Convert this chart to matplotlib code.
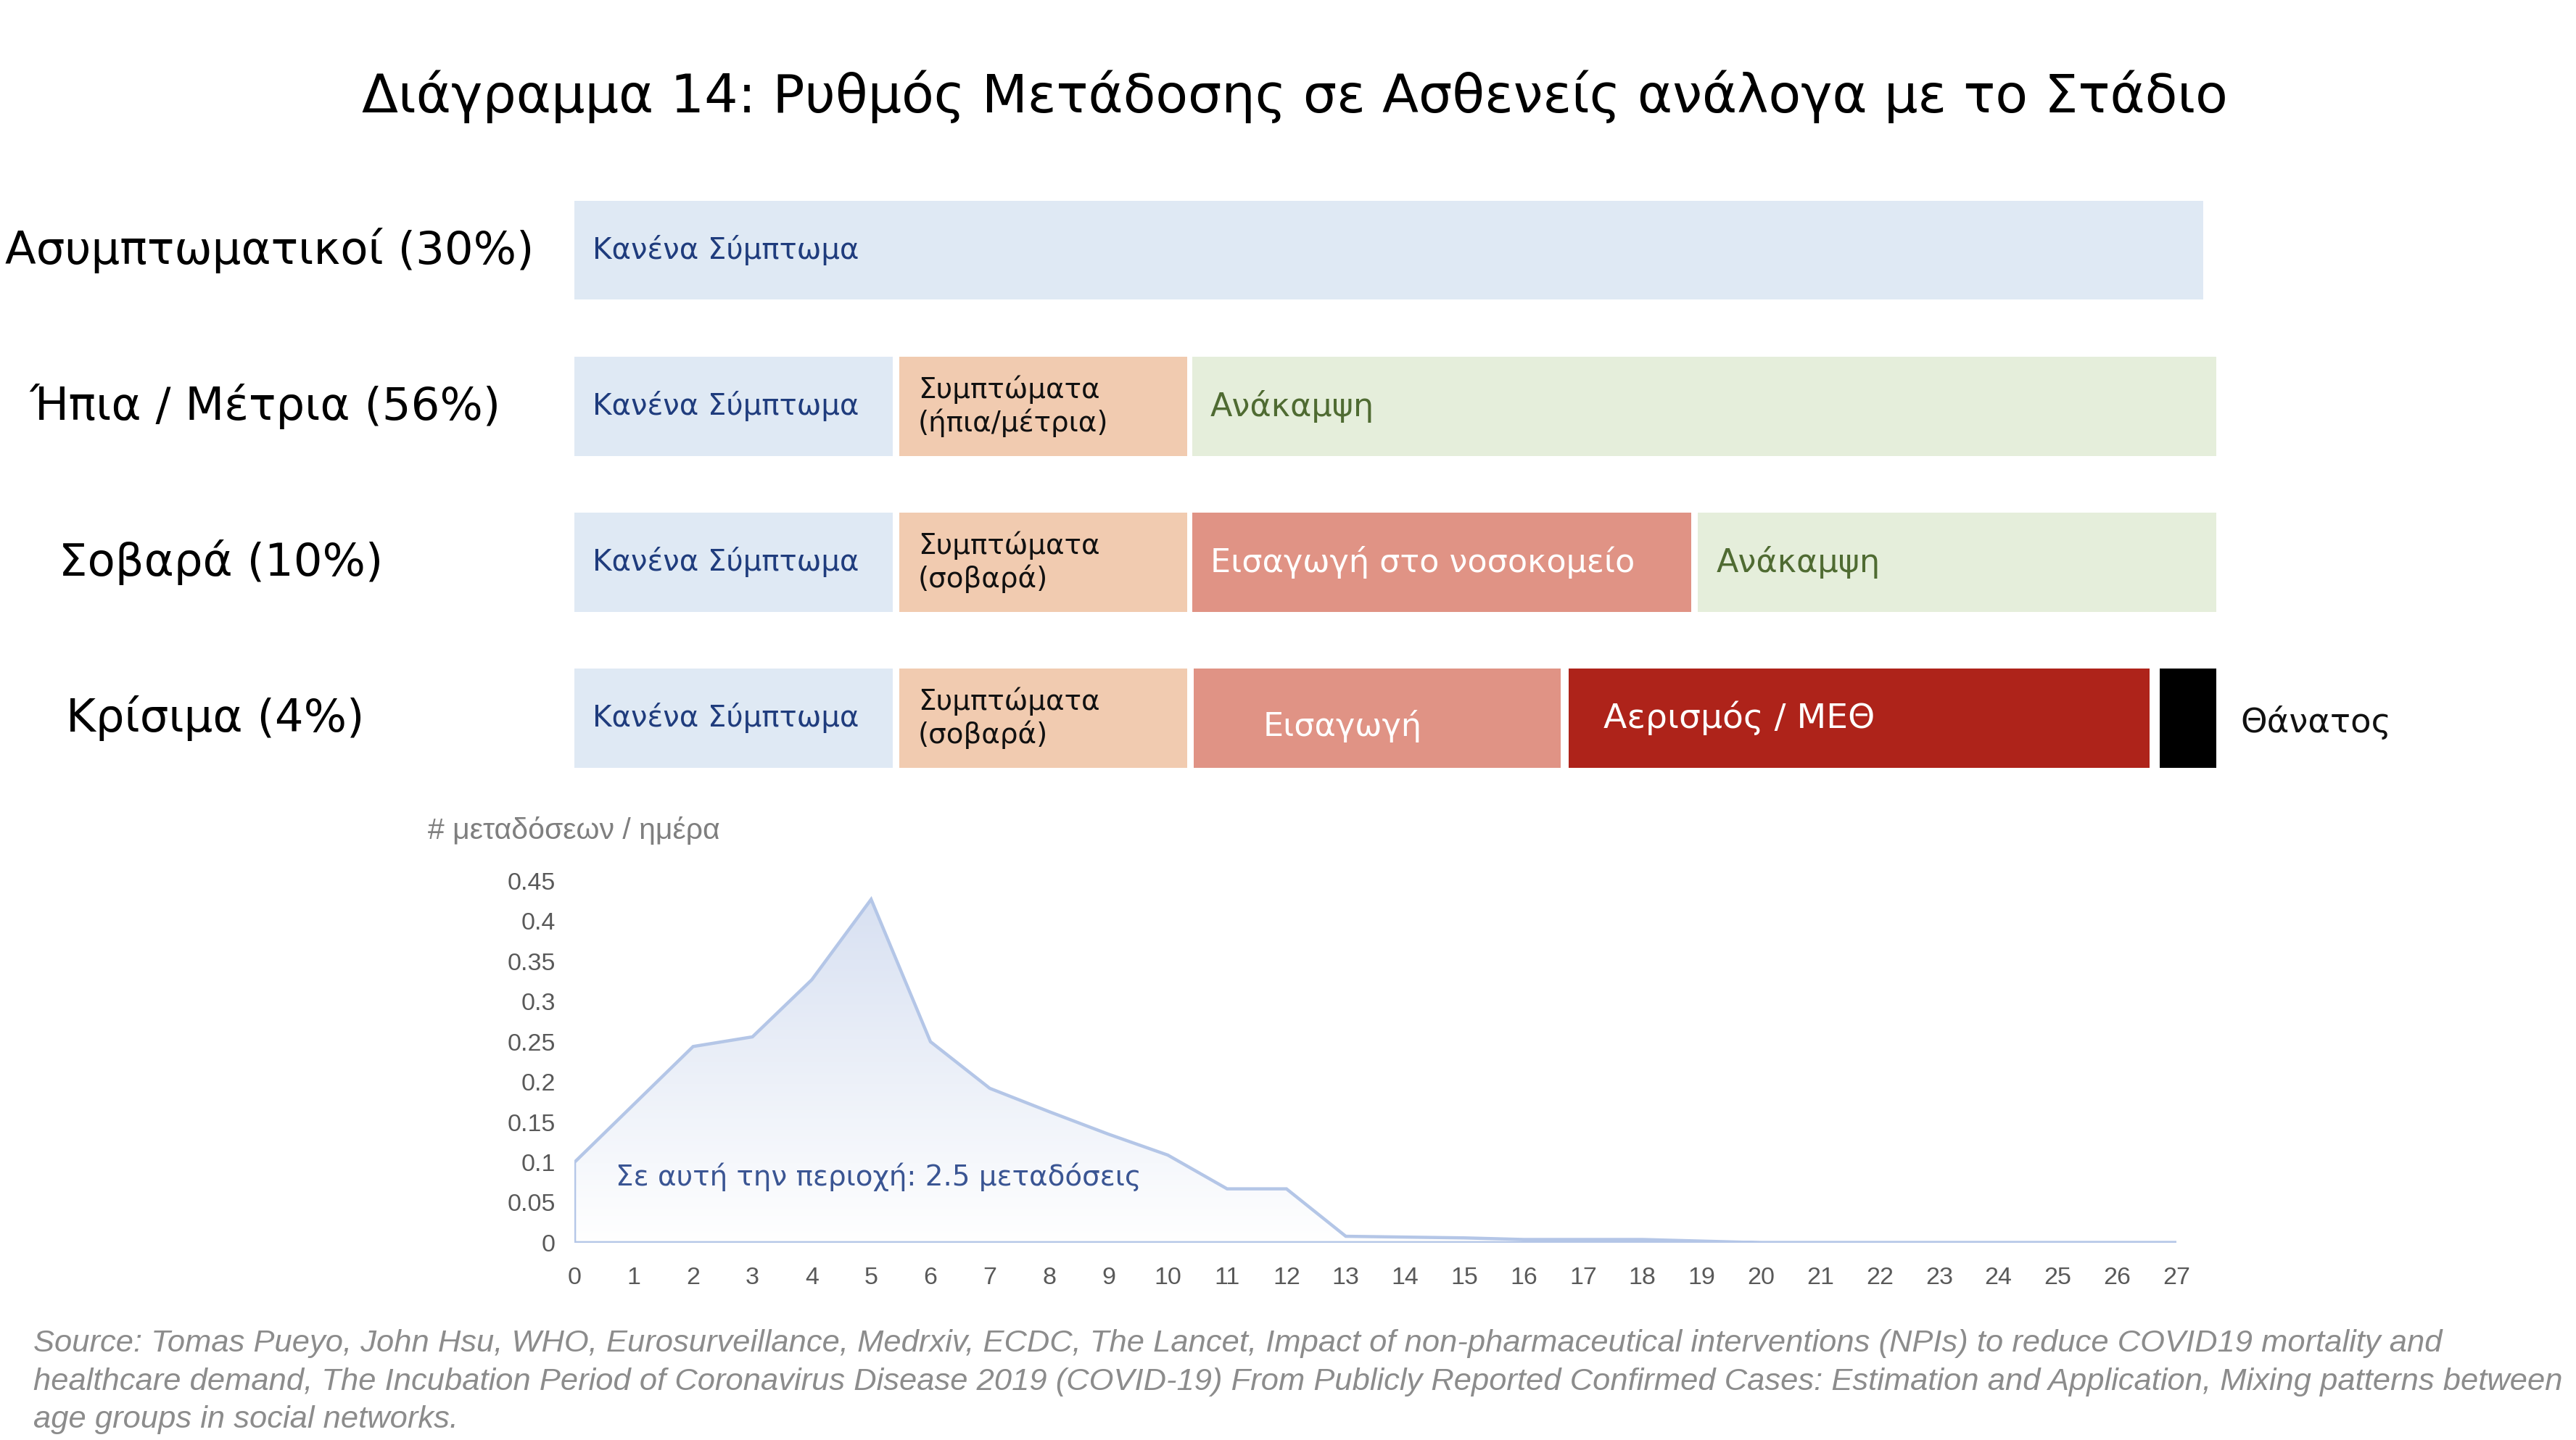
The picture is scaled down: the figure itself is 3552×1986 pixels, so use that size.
import numpy as np
import matplotlib
matplotlib.use('Agg')
import matplotlib.pyplot as plt
from matplotlib.colors import LinearSegmentedColormap
from matplotlib.patches import Polygon
from matplotlib.transforms import blended_transform_factory

# 데이터
days = list(range(28))
rate = [0.100, 0.172, 0.244, 0.256, 0.327, 0.427, 0.250, 0.192, 0.163, 0.135,
        0.109, 0.067, 0.067, 0.008, 0.007, 0.006, 0.004, 0.004, 0.004, 0.002,
        0.0, 0.0, 0.0, 0.0, 0.0, 0.0, 0.0, 0.0]

rows = ['Ασυμπτωματικοί (30%)', 'Ήπια / Μέτρια (56%)', 'Σοβαρά (10%)', 'Κρίσιμα (4%)']

# 각 단계 구간 (일 단위 시작, 끝)
seg_start = [[0.0],
             [0.0, 5.48, 10.41],
             [0.0, 5.48, 10.41, 18.93],
             [0.0, 5.48, 10.44, 16.76, 26.72]]
seg_end = [[27.45],
           [5.37, 10.33, 27.67],
           [5.37, 10.33, 18.82, 27.67],
           [5.37, 10.33, 16.62, 26.55, 27.67]]
seg_text = [['Κανένα Σύμπτωμα'],
            ['Κανένα Σύμπτωμα', 'Συμπτώματα\n(ήπια/μέτρια)', 'Ανάκαμψη'],
            ['Κανένα Σύμπτωμα', 'Συμπτώματα\n(σοβαρά)', 'Εισαγωγή στο νοσοκομείο', 'Ανάκαμψη'],
            ['Κανένα Σύμπτωμα', 'Συμπτώματα\n(σοβαρά)', 'Εισαγωγή', 'Αερισμός / ΜΕΘ', '']]
seg_kind = [['none'],
            ['none', 'sym', 'rec'],
            ['none', 'sym', 'hosp', 'rec'],
            ['none', 'sym', 'hosp', 'icu', 'death']]

fill_c = {'none': '#dfe9f4', 'sym': '#f1cbb0', 'hosp': '#e09385', 'icu': '#ae231a',
          'rec': '#e5eedb', 'death': '#000000'}
text_c = {'none': '#1f3c7d', 'sym': '#111111', 'hosp': '#ffffff', 'icu': '#ffffff',
          'rec': '#4f6b32', 'death': '#000000'}
text_s = {'none': 29, 'sym': 28, 'hosp': 32, 'icu': 34, 'rec': 32, 'death': 32}

plt.rcParams['font.family'] = ['DejaVu Sans']
fig = plt.figure(figsize=(35.52, 19.86), dpi=100)

fig.text(0.5025, 0.933, 'Διάγραμμα 14: Ρυθμός Μετάδοσης σε Ασθενείς ανάλογα με το Στάδιο',
         ha='center', va='center', fontsize=52.7, color='#000000')

# 상단 막대
ax = fig.add_axes([0.2230, 0.4471, 0.6219, 0.4333])
ax.set_xlim(0, 27)
ax.set_ylim(3.5, -0.5)
ax.axis('off')
trans = blended_transform_factory(fig.transFigure, ax.transData)

label_x = [0.1047, 0.1028, 0.0859, 0.0836]
for i, name in enumerate(rows):
    ax.text(label_x[i], i, name, transform=trans,
            ha='center', va='center', fontsize=45, color='#000000')
    for s, e, t, k in zip(seg_start[i], seg_end[i], seg_text[i], seg_kind[i]):
        ax.barh(i, e - s, left=s, height=0.635, color=fill_c[k], clip_on=False)
        if t:
            dx = 0.31
            dy = 0
            if i == 3 and k == 'hosp':
                dx, dy = 1.17, 0.05
            if k == 'icu':
                dx = 0.58
            ax.text(s + dx, i + dy, t, ha='left', va='center', fontsize=text_s[k],
                    color=text_c[k], linespacing=1.2, clip_on=False)
ax.text(28.08, 3.03, 'Θάνατος', ha='left', va='center', fontsize=33.5, color='#111111')

# 하단 영역 차트
ax2 = fig.add_axes([0.2230, 0.1370, 0.6219, 0.2513])
ax2.set_xlim(0, 27)
ax2.set_ylim(0, 0.45)
for sp in ax2.spines.values():
    sp.set_visible(False)

verts = [(0, 0)] + list(zip(days, rate)) + [(27, 0)]
poly = Polygon(verts, closed=True, facecolor='none', edgecolor='#b4c6e7', lw=3.2, zorder=3)
ax2.add_patch(poly)
cmap = LinearSegmentedColormap.from_list('g', ['#ffffff', '#d6dff1'])
grad = np.linspace(0, 1, 256).reshape(-1, 1)
im = ax2.imshow(grad, extent=[0, 27, 0, 0.45], origin='lower', aspect='auto', cmap=cmap, zorder=1)
clip = Polygon(verts, closed=True, transform=ax2.transData)
im.set_clip_path(clip)

ax2.set_xticks(days)
ax2.set_yticks([0, 0.05, 0.1, 0.15, 0.2, 0.25, 0.3, 0.35, 0.4, 0.45])
ax2.set_yticklabels(['0', '0.05', '0.1', '0.15', '0.2', '0.25', '0.3', '0.35', '0.4', '0.45'])
ax2.tick_params(length=0, labelsize=24.5, labelcolor='#595959')
ax2.tick_params(axis='x', pad=24)
ax2.tick_params(axis='y', pad=19)
for lb in ax2.get_xticklabels() + ax2.get_yticklabels():
    lb.set_family('Liberation Sans')

fig.text(0.1661, 0.4234, '# μεταδόσεων / ημέρα', ha='left', va='center', fontsize=29.5,
         color='#7f7f7f', family='Liberation Sans')
ax2.text(0.7, 0.082, 'Σε αυτή την περιοχή: 2.5 μεταδόσεις', ha='left', va='center',
         fontsize=28, color='#3a5593', zorder=4)

src = ('Source: Tomas Pueyo, John Hsu, WHO, Eurosurveillance, Medrxiv, ECDC, The Lancet, Impact of non-pharmaceutical interventions (NPIs) to reduce COVID19 mortality and\n'
       'healthcare demand, The Incubation Period of Coronavirus Disease 2019 (COVID-19) From Publicly Reported Confirmed Cases: Estimation and Application, Mixing patterns between\n'
       'age groups in social networks.')
fig.text(0.013, 0.0405, src, ha='left', va='center', fontsize=31.3, color='#8c8c8c',
         style='italic', family='Liberation Sans', linespacing=1.4)

fig.savefig('out.png', dpi=100, facecolor='white')
